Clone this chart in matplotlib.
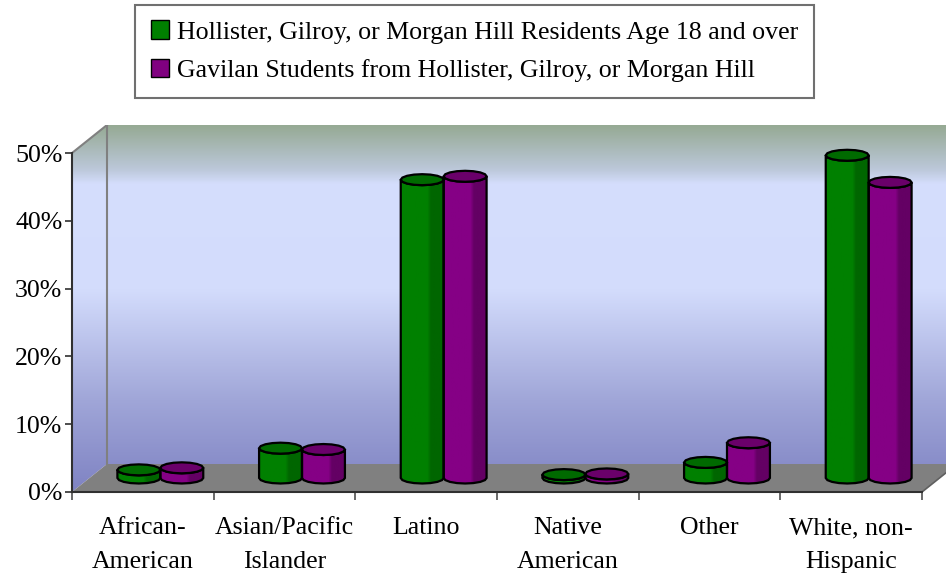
import numpy as np
import matplotlib
matplotlib.use("Agg")
import matplotlib.pyplot as plt
from matplotlib.patches import Polygon, Patch
from matplotlib.colors import LinearSegmentedColormap

# data
categories = ["African-\nAmerican", "Asian/Pacific\nIslander", "Latino",
              "Native\nAmerican", "Other", "White, non-\nHispanic"]
residents = [1.2, 4.4, 44.0, 0.5, 2.3, 47.6]
students = [1.5, 4.2, 44.5, 0.6, 5.2, 43.6]
series_names = ["Hollister, Gilroy, or Morgan Hill Residents Age 18 and over",
                "Gavilan Students from Hollister, Gilroy, or Morgan Hill"]
yticks = [0, 10, 20, 30, 40, 50]
ytick_labels = ["0%", "10%", "20%", "30%", "40%", "50%"]

plt.rcParams["font.family"] = ["Liberation Serif", "DejaVu Serif"]
FS = 18.6

W, H = 946, 586
fig = plt.figure(figsize=(W / 100, H / 100), dpi=100)

# pixel geometry of the 3D-ish plot box
x0_px, x6_px = 72, 922
y0_px, y50_px = 492, 153
top_px = 125
dx_px, dy_px = 35, 28

n = len(categories)
cw = (x6_px - x0_px) / n
py = (y0_px - y50_px) / 50
DX = dx_px / cw
DY = dy_px / py
ymax = 50

ax = fig.add_axes([x0_px / W, (H - y0_px) / H, (W - x0_px) / W, (y0_px - top_px) / H])
ax.set_xlim(0, (W - x0_px) / cw)
ax.set_ylim(0, (y0_px - top_px) / py)

# --- walls with vertical gradient ---
wall_top = ymax + DY
wall_cmap = LinearSegmentedColormap.from_list(
    "wall", [(0.0, "#7f83c3"), (0.25, "#a0a6d8"), (0.55, "#d3dcfc"),
             (0.84, "#d5defd"), (0.88, "#bcc8da"), (1.0, "#96aa94")])
grad = np.linspace(0, 1, 256).reshape(-1, 1)

side = Polygon([(0, 0), (DX, DY), (DX, wall_top), (0, ymax)], closed=True,
               facecolor="none", edgecolor="none")
back = Polygon([(DX, DY), (n + DX, DY), (n + DX, wall_top), (DX, wall_top)],
               closed=True, facecolor="none", edgecolor="none")
for poly in (side, back):
    ax.add_patch(poly)
    im = ax.imshow(grad, cmap=wall_cmap, origin="lower", aspect="auto",
                   extent=(0, n + DX, 0, wall_top), zorder=0)
    im.set_clip_path(poly)

floor = Polygon([(0, 0), (n, 0), (n + DX, DY), (DX, DY)], closed=True,
                facecolor="#808080", edgecolor="none", zorder=1)
ax.add_patch(floor)
ax.plot([0, DX], [ymax, wall_top], color="#808080", lw=1.5, zorder=1)
ax.plot([DX, DX], [DY, wall_top], color="#808080", lw=1.5, zorder=1)
ax.plot([n, n + DX], [0, DY], color="#606060", lw=1.2, zorder=1)

# --- cylinders ---
ELL = 5.5 / py


def cylinder(xl, width, base, height, light, dark, topc):
    rx = width / 2
    xc = xl + rx
    top = base + height
    t = np.linspace(np.pi, 2 * np.pi, 9)
    bottom_arc = np.column_stack([xc + rx * np.cos(t), base + ELL * np.sin(t)])
    top_arc = np.column_stack([xc + rx * np.cos(t[::-1]), top + ELL * np.sin(t[::-1])])
    body = Polygon(np.vstack([bottom_arc, top_arc]), closed=True,
                   facecolor="none", edgecolor="black", lw=1.6, zorder=4)
    ax.add_patch(body)
    cmap = LinearSegmentedColormap.from_list(
        "c", [(0, light), (0.62, light), (0.7, dark), (1, dark)])
    im = ax.imshow(np.linspace(0, 1, 64).reshape(1, -1), cmap=cmap, aspect="auto",
                   extent=(xl, xl + width, base - ELL, top), zorder=3)
    im.set_clip_path(body)
    tt = np.linspace(0, 2 * np.pi, 17)
    lid = Polygon(np.column_stack([xc + rx * np.cos(tt), top + ELL * np.sin(tt)]),
                  closed=True, facecolor=topc, edgecolor="black", lw=1.6, zorder=5)
    ax.add_patch(lid)


bw = 0.303
for i in range(n):
    c = i + 0.5 + DX / 2
    cylinder(c - bw, bw, DY / 2, residents[i], "#008000", "#006600", "#006a00")
    cylinder(c, bw, DY / 2, students[i], "#850085", "#640064", "#6a006a")

# --- axes ---
for s in ("top", "right"):
    ax.spines[s].set_visible(False)
ax.spines["left"].set_bounds(0, ymax)
ax.spines["bottom"].set_bounds(0, n)
for s in ("left", "bottom"):
    ax.spines[s].set_color("#303030")
    ax.spines[s].set_linewidth(1.5)
    ax.spines[s].set_zorder(6)

ax.set_yticks(yticks)
ax.set_yticklabels(ytick_labels, fontsize=FS)
ax.tick_params(axis="y", direction="out", length=5, width=1.2, color="#303030", pad=2)

ax.set_xticks(np.arange(n + 1))
ax.set_xticklabels([])
ax.set_xticks(np.arange(n) + 0.5, minor=True)
ax.set_xticklabels(categories, minor=True, fontsize=FS, linespacing=1.72, va="top")
ax.tick_params(axis="x", which="major", direction="out", length=6, width=1.2, color="#505050")
ax.tick_params(axis="x", which="minor", length=0, pad=18)

# --- legend ---
handles = [Patch(facecolor="#008000", edgecolor="black"),
           Patch(facecolor="#800080", edgecolor="black")]
leg = fig.legend(handles, series_names, loc="upper center",
                 bbox_to_anchor=(474.5 / W, 1 - 5 / H), fontsize=FS,
                 handlelength=0.7, handleheight=0.7, handletextpad=0.3,
                 labelspacing=0.6, borderpad=0.6, borderaxespad=0,
                 fancybox=False, framealpha=1)
leg.get_frame().set_edgecolor("#707070")
leg.get_frame().set_linewidth(1.5)

fig.savefig("out.png", dpi=100)
